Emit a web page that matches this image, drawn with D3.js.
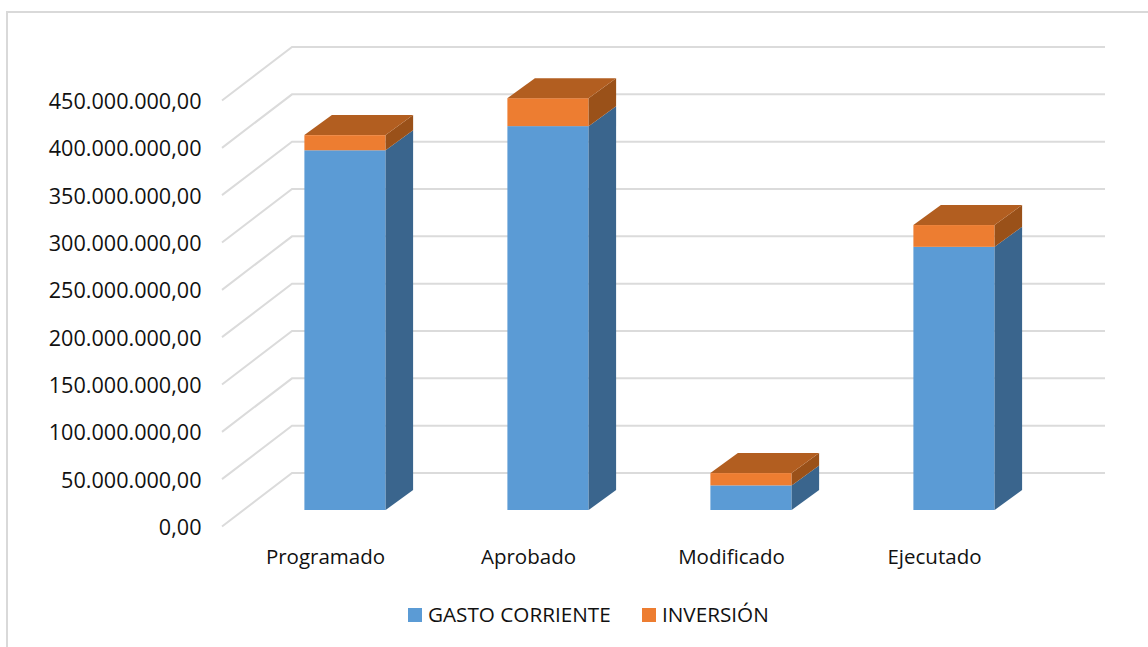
<!DOCTYPE html>
<html>
<head>
<meta charset="utf-8">
<script src="https://cdn.jsdelivr.net/npm/d3@7"></script>
<style>
  html, body { margin: 0; padding: 0; background: #fff; }
  svg { display: block; }
  text { font-family: "Open Sans", sans-serif; fill: #111; }
</style>
</head>
<body>
<div id="chart"></div>
<script>
var svgWidth = 1148;
var svgHeight = 647;

var categories = ["Programado", "Aprobado", "Modificado", "Ejecutado"];
var gastoCorriente = [380000000, 405500000, 26000000, 278000000];
var inversion = [16000000, 29500000, 13000000, 23000000];
var tickValues = [0, 50000000, 100000000, 150000000, 200000000, 250000000, 300000000, 350000000, 400000000, 450000000];
var seriesNames = ["GASTO CORRIENTE", "INVERSIÓN"];

var colors = ["#5B9BD5", "#ED7D31"];
var sideColors = ["#3A658D", "#9A5119"];
var topColor = "#B25E20";
var gridColor = "#DBDBDB";

// 3d offsets of the fake perspective
var wallX = 292, wallRight = 1105;
var floorDx = 70, floorDy = 53.5;
var barFront = 37, barBack = 17, barDepthX = 27.5;

var svg = d3.select("#chart").append("svg")
  .attr("width", svgWidth)
  .attr("height", svgHeight);

// chart frame
svg.append("path")
  .attr("d", "M7,647V12H1148")
  .attr("fill", "none")
  .attr("stroke", "#D9D9D9")
  .attr("stroke-width", 2);

// y is the back wall, everything else is shifted from it
var y = d3.scaleLinear().domain([0, 450000000]).range([473, 47]);
var x = d3.scaleBand().domain(categories).range([243.5, 1055.5])
  .paddingInner(0.6).paddingOuter(0.3);

var locale = d3.formatLocale({ decimal: ",", thousands: ".", grouping: [3], currency: ["", ""] });
var fmt = locale.format(",.2f");

// gridlines
var grid = svg.append("g");
grid.selectAll("path").data(tickValues).enter().append("path")
  .attr("d", d => `M${wallX - floorDx},${y(d) + floorDy}L${wallX},${y(d)}H${wallRight}`)
  .attr("fill", "none")
  .attr("stroke", gridColor)
  .attr("stroke-width", 2);

// y axis labels
var yAxis = d3.axisLeft(y).tickValues(tickValues).tickFormat(fmt).tickSize(0).tickPadding(0);
svg.append("g")
  .attr("transform", `translate(201.5, ${floorDy + 1})`)
  .call(yAxis)
  .call(g => g.select(".domain").remove())
  .selectAll("text")
  .style("font-family", "'Open Sans', sans-serif")
  .style("font-size", "21.6px")
  .style("fill", "#111");

// stacked bars
var stack = categories.map(function(c, i) {
  return [
    { cat: c, s: 0, v0: 0, v1: gastoCorriente[i] },
    { cat: c, s: 1, v0: gastoCorriente[i], v1: gastoCorriente[i] + inversion[i] }
  ];
});

var bars = svg.selectAll(".bar").data(stack).enter().append("g").attr("class", "bar");

bars.each(function(segs) {
  var g = d3.select(this);
  segs.forEach(function(d) {
    var x0 = x(d.cat), x1 = x0 + x.bandwidth();
    var yTop = y(d.v1) + barFront, yBot = y(d.v0) + barFront;
    var rise = barFront - barBack;
    g.append("rect")
      .attr("x", x0).attr("y", yTop)
      .attr("width", x.bandwidth()).attr("height", yBot - yTop)
      .attr("fill", colors[d.s]);
    g.append("path")
      .attr("d", `M${x1},${yTop}L${x1 + barDepthX},${yTop - rise}V${yBot - rise}L${x1},${yBot}Z`)
      .attr("fill", sideColors[d.s]);
  });
  var last = segs[segs.length - 1];
  var x0 = x(last.cat), x1 = x0 + x.bandwidth();
  var yTop = y(last.v1) + barFront;
  var rise = barFront - barBack;
  g.append("path")
    .attr("d", `M${x0},${yTop}L${x0 + barDepthX},${yTop - rise}H${x1 + barDepthX}L${x1},${yTop}Z`)
    .attr("fill", topColor);
});

// category labels
svg.selectAll(".cat").data(categories).enter().append("text")
  .attr("class", "cat")
  .attr("x", d => x(d) + x.bandwidth() / 2 - 19.5)
  .attr("y", 564)
  .attr("text-anchor", "middle")
  .style("font-size", "20.5px")
  .text(d => d);

// legend
var legendX = [408, 642];
var legend = svg.selectAll(".legend").data(seriesNames).enter().append("g")
  .attr("class", "legend")
  .attr("transform", (d, i) => `translate(${legendX[i]}, 608)`);
legend.append("rect")
  .attr("width", 14).attr("height", 14)
  .attr("fill", (d, i) => colors[i]);
legend.append("text")
  .attr("x", 20).attr("y", 14)
  .style("font-size", "20.7px")
  .text(d => d);
</script>
</body>
</html>
